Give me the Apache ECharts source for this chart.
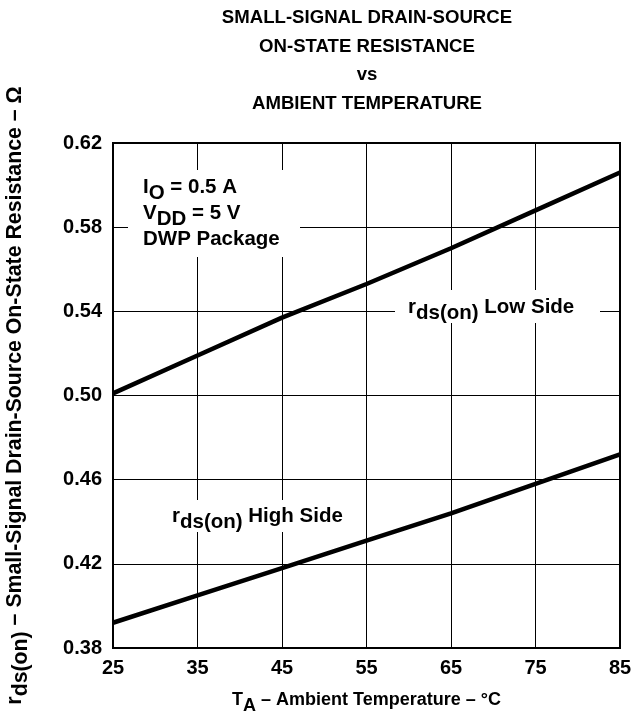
<!DOCTYPE html>
<html><head><meta charset="utf-8">
<script src="https://cdn.jsdelivr.net/npm/echarts@6/dist/echarts.min.js"></script>
<style>html,body{margin:0;padding:0;background:#fff}#c{width:644px;height:719px}</style>
</head><body><div id="c"></div>
<script>
// ---- data ----
const temps = [25, 35, 45, 55, 65, 75, 85];
const lowSide = [0.501, 0.519, 0.537, 0.553, 0.570, 0.588, 0.606];
const highSide = [0.392, 0.405, 0.418, 0.431, 0.444, 0.458, 0.472];
const xMin = 25, xMax = 85, xStep = 10;
const yMin = 0.38, yMax = 0.62, yStep = 0.04;
const titleLines = ['SMALL-SIGNAL DRAIN-SOURCE', 'ON-STATE RESISTANCE', 'vs', 'AMBIENT TEMPERATURE'];

const FONT = '"Liberation Sans", Arial, Helvetica, sans-serif';
const chart = echarts.init(document.getElementById('c'));

const subRich = {
  n: {fontFamily: FONT, fontWeight: 'bold', fontSize: 20.5, color: '#000'},
  s: {fontFamily: FONT, fontWeight: 'bold', fontSize: 20.5, color: '#000', padding: [13, 0, 0, 0]}
};

chart.setOption({
  animation: false,
  backgroundColor: '#fff',
  grid: {left: 113, top: 143, width: 507, height: 505, outerBoundsMode: 'none', containLabel: false,
    show: true, borderColor: '#000', borderWidth: 2, backgroundColor: 'transparent'},
  xAxis: {
    type: 'value', min: xMin, max: xMax, interval: xStep,
    axisLine: {show: false}, axisTick: {show: false},
    splitLine: {show: true, lineStyle: {color: '#000', width: 1}},
    axisLabel: {color: '#000', fontFamily: FONT, fontWeight: 'bold', fontSize: 20, margin: 10},
    name: '{n|T}{s|A}{n| – Ambient Temperature – °C}',
    nameLocation: 'middle', nameGap: 37,
    nameTextStyle: {rich: {
      n: {fontFamily: FONT, fontWeight: 'bold', fontSize: 18, color: '#000'},
      s: {fontFamily: FONT, fontWeight: 'bold', fontSize: 18, color: '#000', padding: [12, 0, 0, 0]}
    }}
  },
  yAxis: {
    type: 'value', min: yMin, max: yMax, interval: yStep,
    axisLine: {show: false}, axisTick: {show: false},
    splitLine: {show: true, lineStyle: {color: '#000', width: 1}},
    axisLabel: {color: '#000', fontFamily: FONT, fontWeight: 'bold', fontSize: 20, margin: 11,
      formatter: v => v.toFixed(2)},
    name: '{n|r}{s|ds(on)}{n| – Small-Signal Drain-Source On-State Resistance – Ω}',
    nameLocation: 'middle', nameGap: 81, nameRotate: 90,
    nameTextStyle: {rich: {
      n: {fontFamily: FONT, fontWeight: 'bold', fontSize: 21.3, color: '#000'},
      s: {fontFamily: FONT, fontWeight: 'bold', fontSize: 21.3, color: '#000', padding: [13, 0, 0, 0]}
    }}
  },
  series: [
    {type: 'line', name: 'Low Side', data: temps.map((t, i) => [t, lowSide[i]]), symbol: 'none', z: 3,
      lineStyle: {color: '#000', width: 4.5}},
    {type: 'line', name: 'High Side', data: temps.map((t, i) => [t, highSide[i]]), symbol: 'none', z: 3,
      lineStyle: {color: '#000', width: 4.5}}
  ],
  graphic: [
    {type: 'text', x: 367, y: 4, z: 10, style: {
      text: titleLines.join('\n'), fill: '#000', font: 'bold 18.6px ' + FONT,
      align: 'center', lineHeight: 28.5}},
    {type: 'rect', z: 5, shape: {x: 128, y: 170, width: 172, height: 87}, style: {fill: '#fff'}},
    {type: 'text', x: 143, y: 174, z: 10, style: {
      text: '{n|I}{s|O}{n| = 0.5 A}\n{n|V}{s|DD}{n| = 5 V}\n{n|DWP Package}',
      rich: subRich, lineHeight: 26}},
    {type: 'rect', z: 5, shape: {x: 395, y: 290, width: 205, height: 33}, style: {fill: '#fff'}},
    {type: 'text', x: 408, y: 290, z: 10, style: {
      text: '{n|r}{s|ds(on)}{n| Low Side}', rich: subRich}},
    {type: 'rect', z: 5, shape: {x: 160, y: 500, width: 200, height: 32}, style: {fill: '#fff'}},
    {type: 'text', x: 172, y: 499, z: 10, style: {
      text: '{n|r}{s|ds(on)}{n| High Side}', rich: subRich}}
  ]
});
</script></body></html>
